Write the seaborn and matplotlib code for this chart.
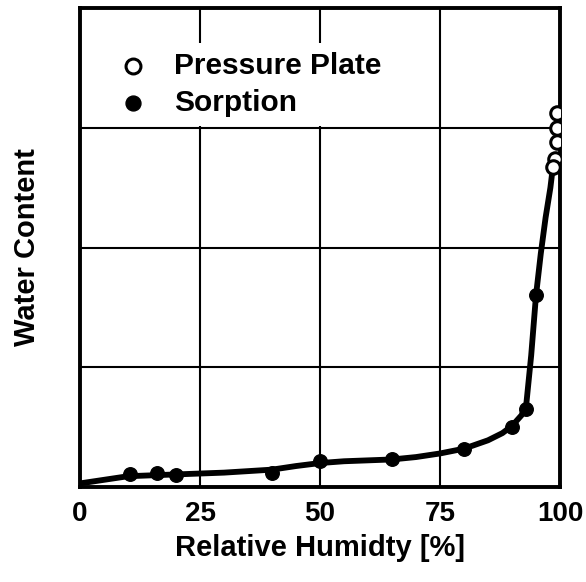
import matplotlib
matplotlib.use("Agg")
import matplotlib.pyplot as plt
import seaborn as sns
import pandas as pd

# Sorption isotherm: measured points
sorption_rh = [10.5, 16, 20, 40, 50, 65, 80, 90, 93, 95]
sorption_wc = [0.11, 0.12, 0.10, 0.12, 0.22, 0.23, 0.32, 0.50, 0.65, 1.60]

# Pressure plate measurements near saturation
plate_rh = [99.4, 99.4, 99.4, 98.9, 98.5]
plate_wc = [3.12, 3.00, 2.88, 2.74, 2.67]

# Fitted moisture storage function
curve_rh = [0, 10, 20, 30, 40, 45, 50, 55, 65, 70, 75, 80, 85, 88, 90, 92,
            93, 94, 95, 96, 97, 98, 98.6]
curve_wc = [0.03, 0.09, 0.105, 0.12, 0.145, 0.175, 0.20, 0.215, 0.23, 0.25, 0.28,
            0.32, 0.39, 0.45, 0.51, 0.60, 0.70, 1.10, 1.60, 1.95, 2.25, 2.50, 2.70]

x_ticks = [0, 25, 50, 75, 100]
y_grid = [1, 2, 3]

sns.set_style("white")
plt.rcParams["font.family"] = ["Liberation Sans", "DejaVu Sans"]
plt.rcParams["font.weight"] = "bold"
plt.rcParams["text.color"] = "black"
plt.rcParams["axes.labelcolor"] = "black"
plt.rcParams["xtick.color"] = "black"
plt.rcParams["ytick.color"] = "black"

fig = plt.figure(figsize=(5.86, 5.82), dpi=100)
ax = fig.add_axes([80 / 586, 95 / 582, 480 / 586, 479 / 582])

curve = pd.DataFrame({"rh": curve_rh, "wc": curve_wc})
sns.lineplot(data=curve, x="rh", y="wc", color="black", linewidth=4.2,
             sort=False, ax=ax, zorder=3)

plate = pd.DataFrame({"rh": plate_rh, "wc": plate_wc})
sns.scatterplot(data=plate, x="rh", y="wc", s=95, facecolor="white",
                edgecolor="black", linewidth=2.2, label="Pressure Plate",
                ax=ax, zorder=4)

sorp = pd.DataFrame({"rh": sorption_rh, "wc": sorption_wc})
sns.scatterplot(data=sorp, x="rh", y="wc", s=95, color="black",
                edgecolor="black", linewidth=1, label="Sorption",
                ax=ax, zorder=4)

ax.set_xlim(0, 100)
ax.set_ylim(0, 4)
ax.set_xticks(x_ticks)
ax.set_xticklabels([str(v) for v in x_ticks], fontsize=20, fontweight="bold",
                   color="black")
ax.set_yticks(y_grid)
ax.set_yticklabels([])
ax.tick_params(axis="both", length=0, pad=10)

for v in x_ticks[1:-1]:
    ax.axvline(v, color="black", linewidth=1.5, zorder=1)
for v in y_grid:
    ax.axhline(v, color="black", linewidth=1.5, zorder=1)

for sp in ax.spines.values():
    sp.set_visible(True)
    sp.set_color("black")
    sp.set_linewidth(2.8)

ax.set_xlabel("Relative Humidty [%]", fontsize=21, fontweight="bold",
              labelpad=5, color="black")
ax.set_ylabel("Water Content", fontsize=21, fontweight="bold",
              labelpad=18, color="black")

leg = ax.legend(loc="upper left", bbox_to_anchor=(0.06, 0.927), frameon=True,
                fontsize=21.5, handlelength=1.0, handletextpad=0.9,
                labelspacing=0.3, borderpad=0.3, borderaxespad=0,
                markerscale=1.1)
leg.get_frame().set_facecolor("white")
leg.get_frame().set_edgecolor("none")
leg.get_frame().set_alpha(1)
for t in leg.get_texts():
    t.set_fontweight("bold")
    t.set_color("black")

fig.savefig("out.png", dpi=100)
